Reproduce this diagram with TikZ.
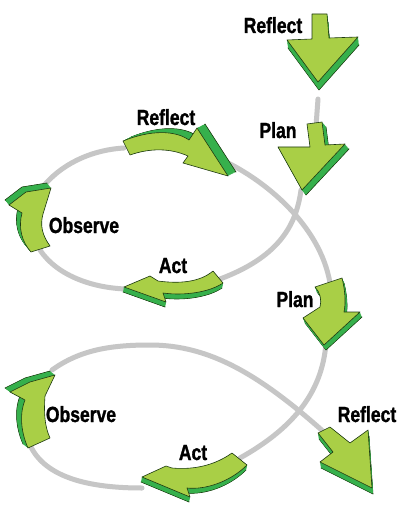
\documentclass[tikz,border=0pt]{standalone}
\usepackage{fontspec}
\setmainfont{Liberation Sans}[FakeStretch=0.8,FakeBold=1.2]
\definecolor{leaf}{HTML}{A9CF46}
\definecolor{side}{HTML}{36B04C}
\definecolor{edge}{HTML}{1E3A12}
\definecolor{loopgray}{HTML}{C6C6C6}
\tikzset{
  loopline/.style={draw=loopgray, line width=5bp, line cap=round},
  arrowface/.style={fill=leaf, draw=edge, line width=0.6bp, line join=round},
  arrowside/.style={fill=side},
  arrowsideedge/.style={fill=side, draw=edge, line width=0.6bp, line join=round},
  lbl/.style={font=\fontsize{22}{25}\selectfont\bfseries, text=black, anchor=base, inner sep=0pt}
}
% #1,#2: extrusion offset, #3: outline path
\newcommand\garrow[3]{%
  \foreach \k in {1,...,10} {\fill[arrowside, shift={({#1*\k/10},{#2*\k/10})}] #3;}
  \draw[arrowsideedge, shift={(#1,#2)}] #3;
  \foreach \k in {1,...,9} {\fill[arrowside, shift={({#1*\k/10},{#2*\k/10})}] #3;}
  \draw[arrowface] #3;
}
\begin{document}
\begin{tikzpicture}[x=1bp,y=-1bp]
\useasboundingbox (0,0) rectangle (401,508);
\fill[white] (0,0) rectangle (401,508);

% named ends of the loop segments
\coordinate (r1end) at (318,99);
\coordinate (p1in) at (316,126);
\coordinate (p1out) at (301,190);
\coordinate (a1in) at (220,279);
\coordinate (a1out) at (126,289);
\coordinate (o1in) at (40,250);
\coordinate (o1out) at (42,188);
\coordinate (r2in) at (124,148);
\coordinate (r2out) at (222,160);
\coordinate (p2in) at (330,283);
\coordinate (p2out) at (326,343);
\coordinate (a2in) at (240,458);
\coordinate (a2out) at (142,488);
\coordinate (o2in) at (30,445);
\coordinate (o2out) at (52,370);
\coordinate (r3in) at (325,433);

% gray loop
\draw[loopline] (r1end) -- (p1in);
\draw[loopline] (p1out) .. controls (296,228) and (276,258) .. (a1in);
\draw[loopline] (a1out) .. controls (95,288) and (58,277) .. (o1in);
\draw[loopline] (o1out) .. controls (60,165) and (90,150) .. (r2in);
\draw[loopline] (r2out) .. controls (265,180) and (320,225) .. (p2in);
\draw[loopline] (p2out) .. controls (322,395) and (290,430) .. (a2in);
\draw[loopline] (a2out) .. controls (90,488) and (45,478) .. (o2in);
\draw[loopline] (o2out) .. controls (80,350) and (110,345) .. (150,345)
                 .. controls (210,345) and (260,375) .. (r3in);

% arrows
% top Reflect
\garrow{1}{8}{(312,14) -- (327,14) -- (329,38) -- (358,37) -- (318,82) -- (287,40) -- (312,39) -- cycle}
% top Plan
\garrow{4}{5}{(307,124) -- (322,122) -- (325,145) -- (345,144) -- (302,190) -- (278,147) -- (310,147) -- cycle}
% upper Reflect
\garrow{8}{-4}{(123,141) .. controls (150,130) and (175,130) .. (189,140) -- (197,128) -- (228,176) -- (183,163) -- (188,156) .. controls (170,148) and (150,148) .. (130,155) -- cycle}
% upper Observe
\garrow{-4}{-5}{(31,252) -- (50,246) .. controls (42,235) and (40,225) .. (43,214) -- (51,188) -- (26,192) -- (9,205) -- (22,213) .. controls (18,228) and (22,242) .. (31,252) -- cycle}
% upper Act
\garrow{-1}{5}{(213,271) .. controls (200,282) and (180,284) .. (158,281) -- (150,276) -- (124,287) -- (166,302) -- (163,293) .. controls (185,296) and (210,292) .. (223,283) -- cycle}
% lower Plan
\garrow{2}{5}{(315,287) -- (342,278) .. controls (345,290) and (346,302) .. (344,312) -- (360,312) -- (324,345) -- (303,318) -- (320,307) .. controls (322,300) and (320,292) .. (315,287) -- cycle}
% lower Observe
\garrow{-5}{-4}{(28,448) .. controls (20,430) and (20,412) .. (25,400) -- (10,392) -- (30,382) -- (55,375) -- (45,396) .. controls (44,410) and (44,425) .. (50,438) -- cycle}
% lower Act
\garrow{-1}{5}{(232,453) .. controls (215,465) and (195,470) .. (172,468) -- (166,466) -- (142,477) -- (190,497) -- (187,488) .. controls (205,490) and (230,482) .. (247,465) -- cycle}
% lower Reflect
\garrow{1}{6}{(318,433) -- (330,427) -- (350,443) -- (368,430) -- (372,488) -- (320,462) -- (333,452) -- cycle}

% labels
\node[lbl] (tReflect1) at (273,33) {Reflect};
\node[lbl] (tPlan1) at (278,138) {Plan};
\node[lbl] (tReflect2) at (166,125) {Reflect};
\node[lbl] (tObserve1) at (84,233) {Observe};
\node[lbl] (tAct1) at (173,273) {Act};
\node[lbl] (tPlan2) at (295,307) {Plan};
\node[lbl] (tObserve2) at (81,422) {Observe};
\node[lbl] (tAct2) at (193,460) {Act};
\node[lbl] (tReflect3) at (367,422) {Reflect};
\end{tikzpicture}
\end{document}
